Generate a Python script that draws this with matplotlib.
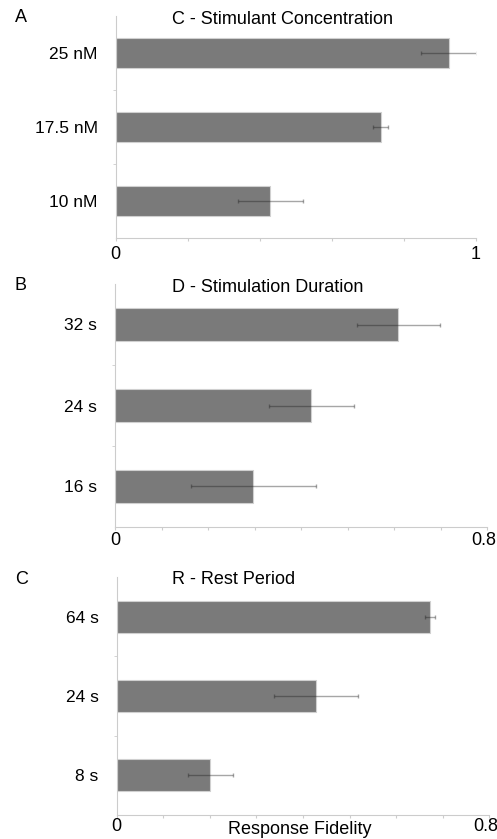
import numpy as np
import matplotlib.pyplot as plt
from matplotlib.transforms import ScaledTranslation

plt.rcParams['font.family'] = ['Liberation Sans', 'DejaVu Sans']

# response fidelity per condition (bottom -> top) with error
conc_labels = ['10 nM', '17.5 nM', '25 nM']
conc_vals = [0.429, 0.735, 0.925]
conc_err = [0.090, 0.022, 0.078]

dur_labels = ['16 s', '24 s', '32 s']
dur_vals = [0.297, 0.422, 0.609]
dur_err = [0.134, 0.091, 0.089]

rest_labels = ['8 s', '24 s', '64 s']
rest_vals = [0.201, 0.428, 0.672]
rest_err = [0.048, 0.090, 0.011]

panels = [
    ('A', 'C - Stimulant Concentration', conc_labels, conc_vals, conc_err, 1.0, 0.2),
    ('B', 'D - Stimulation Duration', dur_labels, dur_vals, dur_err, 0.8, 0.1),
    ('C', 'R - Rest Period', rest_labels, rest_vals, rest_err, 0.8, 0.1),
]

W, H = 497, 839
# axes boxes in pixels: left, top, right, bottom
boxes = [(115.7, 16, 476, 238), (115, 284, 487.3, 527), (116.7, 577, 489.3, 815)]
xpads = [4, 1.5, 0]

fig = plt.figure(figsize=(W / 100, H / 100), dpi=100)

for (letter, title, labels, vals, errs, xmax, step), (l, t, r, b), xpad in zip(panels, boxes, xpads):
    ax = fig.add_axes([l / W, 1 - b / H, (r - l) / W, (b - t) / H])
    y = np.arange(len(vals))
    ax.barh(y, vals, height=0.4, color='#7a7a7a', edgecolor='#d0d0d0', linewidth=0.8)
    ax.errorbar(vals, y, xerr=errs, fmt='none', ecolor='#222222', alpha=0.4,
                elinewidth=1.0, capsize=1.5, capthick=1.0)
    ax.set_xlim(0, xmax)
    ax.set_ylim(-0.5, 2.5)

    ticks = np.round(np.arange(0, xmax + step / 2, step), 2)
    ax.set_xticks(ticks)
    ax.set_xticklabels(['0'] + [''] * (len(ticks) - 2) + [('%g' % xmax)], fontsize=13)
    ax.tick_params(axis='x', length=2, color='#cccccc', pad=xpad)
    if xmax < 1:
        # keep the end label inside the figure
        last = ax.get_xticklabels()[-1]
        last.set_transform(last.get_transform() + ScaledTranslation(-4 / 100, 0, fig.dpi_scale_trans))

    ax.set_yticks(y)
    ax.set_yticklabels(labels, fontsize=12.5)
    ax.tick_params(axis='y', length=0, pad=13)
    ax.set_yticks([0.5, 1.5], minor=True)
    ax.tick_params(axis='y', which='minor', length=2, color='#cccccc')

    for side in ('top', 'right'):
        ax.spines[side].set_visible(False)
    for side in ('left', 'bottom'):
        ax.spines[side].set_color('#cccccc')
        ax.spines[side].set_linewidth(0.8)

    fig.text(172 / W, 1 - (t + 3) / H, title, fontsize=13, ha='left', va='center')
    fig.text(15 / W, 1 - (t + 2) / H, letter, fontsize=13, ha='left', va='center')

fig.text(300 / W, 1 - 830 / H, 'Response Fidelity', fontsize=13, ha='center', va='center')

fig.savefig('out.png', dpi=100)
